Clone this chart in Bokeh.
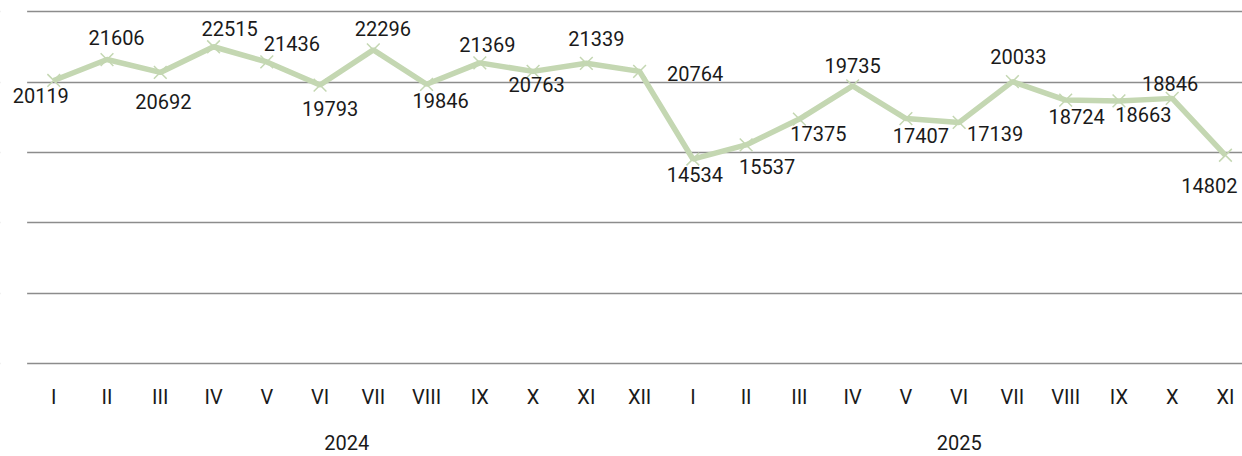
from bokeh.plotting import figure
from bokeh.models import ColumnDataSource, LabelSet, FixedTicker, LinearAxis, Range1d, Grid, BoxAnnotation
from bokeh.core.properties import value
from bokeh.embed import file_html
from bokeh.resources import INLINE

# ---- data ----
months = ["I", "II", "III", "IV", "V", "VI", "VII", "VIII", "IX", "X", "XI", "XII",
          "I", "II", "III", "IV", "V", "VI", "VII", "VIII", "IX", "X", "XI"]
years = ["2024"] * 12 + ["2025"] * 11
values = [20119, 21606, 20692, 22515, 21436, 19793, 22296, 19846, 21369, 20763, 21339, 20764,
          14534, 15537, 17375, 19735, 17407, 17139, 20033, 18724, 18663, 18846, 14802]
grid_ticks = [0, 5000, 10000, 15000, 20000, 25000]

# ---- label placement (pixels, screen: +dx right, +dy down) ----
label_dx = [-13, 9.5, 3, 16, 25, 10, 9.5, 14, 7.5, 3.5, 10, 55.5,
            2, 21, 19, 0, 15, 36, 6, 11, 24.5, -2, -16]
label_dy = [15, -22, 29, -18.5, -18.6, 23, -21, 16, -18, 13, -25, 2,
            15, 22, 14, -20.5, 17, 11.5, -25, 16, 14, -15, 30]

GREEN = "#c4d7b2"
GRID = "#8c8c8c"
TEXT = "#1a1a1a"
FONT = "Roboto"

n = len(values)
xs = list(range(n))
src = ColumnDataSource(dict(
    x=xs, y=values, label=[str(v) for v in values],
    dx=label_dx, dy=[-d for d in label_dy],
))

p = figure(frame_width=1242, frame_height=366,
           x_range=Range1d(-1.0, 22.32), y_range=Range1d(-213, 25803),
           output_backend="svg", toolbar_location=None,
           y_axis_location=None,
           min_border_left=0, min_border_right=0, min_border_top=0, min_border_bottom=90)
p.outline_line_color = None
p.xgrid.visible = False
p.ygrid.visible = False

grid = Grid(dimension=1, ticker=FixedTicker(ticks=grid_ticks),
            grid_line_color=GRID, grid_line_width=1.5)
p.add_layout(grid, "center")

# plot-area starts half a category left of the first month: blank the margin strip
p.add_layout(BoxAnnotation(left=-5, right=-0.5, top=40000, bottom=-10000,
                           fill_color="white", fill_alpha=1.0, line_color=None))

p.line("x", "y", source=src, line_color=GREEN, line_width=5.5)
p.scatter("x", "y", source=src, marker="x", size=18, line_color=GREEN, line_width=1.5)

labels = LabelSet(x="x", y="y", text="label", x_offset="dx", y_offset="dy", source=src,
                  text_font=value(FONT), text_font_size=value("20px"), text_color=TEXT,
                  text_align="center", text_baseline="middle")
p.add_layout(labels)

ax = p.xaxis[0]
ax.ticker = FixedTicker(ticks=xs)
ax.major_label_overrides = {i: m for i, m in enumerate(months)}
ax.axis_line_color = None
ax.major_tick_line_color = None
ax.minor_tick_line_color = None
ax.major_label_standoff = 12
ax.major_label_text_font = FONT
ax.major_label_text_font_size = "20px"
ax.major_label_text_color = TEXT

# year group axis
year_names = []
for y in years:
    if y not in year_names:
        year_names.append(y)
year_centers = []
for yn in year_names:
    idx = [i for i, y in enumerate(years) if y == yn]
    year_centers.append((idx[0] + idx[-1]) / 2)

ax2 = LinearAxis(ticker=FixedTicker(ticks=year_centers),
                 major_label_overrides={c: yn for c, yn in zip(year_centers, year_names)})
ax2.axis_line_color = None
ax2.major_tick_line_color = None
ax2.minor_tick_line_color = None
ax2.major_label_standoff = 17
ax2.major_label_text_font = FONT
ax2.major_label_text_font_size = "20px"
ax2.major_label_text_color = TEXT
p.add_layout(ax2, "below")

open("out.html", "w").write(file_html(p, INLINE))
